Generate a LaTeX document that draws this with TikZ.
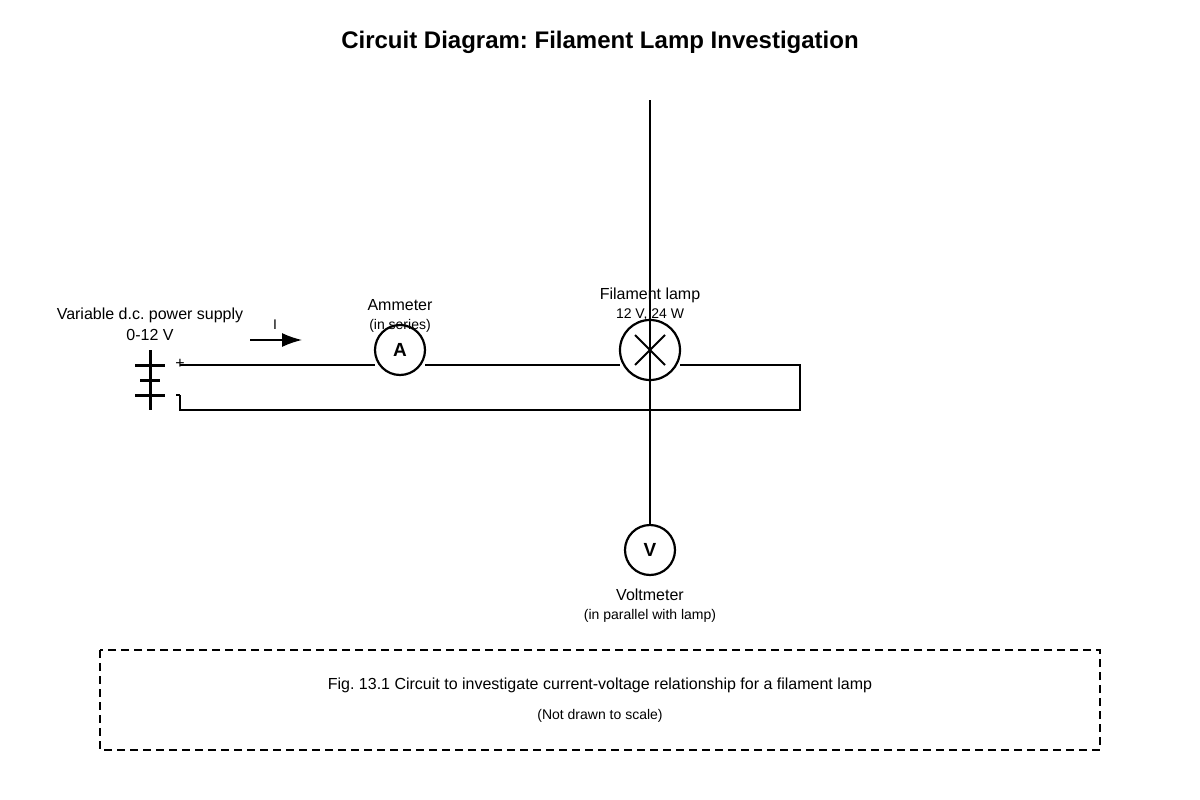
\documentclass[tikz,border=0pt]{standalone}
\usepackage{fontspec}
\setmainfont{Liberation Sans}
\usetikzlibrary{arrows.meta,calc}
\begin{document}
\frenchspacing
\begin{tikzpicture}[x=1pt,y=-1pt,
  wire/.style={line width=1.5pt},
  meter/.style={circle,draw,line width=2.2pt,minimum size=50pt,inner sep=0pt,font=\fontsize{19}{19}\selectfont\bfseries},
  lbl/.style={font=\fontsize{16}{16}\selectfont},
  sml/.style={font=\fontsize{14}{14}\selectfont}]
\useasboundingbox (0,0) rectangle (1200,800);
\node[font=\fontsize{24}{24}\selectfont\bfseries] (title) at (600,42) {Circuit Diagram: Filament Lamp Investigation};
% battery
\draw[line width=3pt] (150,350) -- (150,410);
\draw[line width=3pt] (135,365) -- (165,365);
\draw[line width=3pt] (140,380) -- (160,380);
\draw[line width=3pt] (135,395) -- (165,395);
\node[lbl] (plus) at (180,364) {+};
\coordinate (bp) at (180,365);
\coordinate (bn) at (180,395);
\draw[wire] (176,395) -- (bn);
\node[lbl] (supply) at (150,315) {Variable d.c. power supply};
\node[lbl] (supv) at (150,335) {0-12 V};
% meters and lamp
\node[meter] (A) at (400,350) {A};
\node[meter,minimum size=60pt] (L) at (650,350) {};
\draw[line width=2pt] ($(L.center)+(-15,-15)$) -- ($(L.center)+(15,15)$);
\draw[line width=2pt] ($(L.center)+(-15,15)$) -- ($(L.center)+(15,-15)$);
\node[meter] (V) at (650,550) {V};
\coordinate (top) at (650,100);
\coordinate (rt) at (800,365);
\coordinate (rb) at (800,410);
\coordinate (lb) at (180,410);
\draw[wire] (bp) -- (375,365);
\draw[wire] (425,365) -- (620,365);
\draw[wire] (680,365) -- (rt) -- (rb) -- (lb) -- (bn);
\draw[wire] (top) -- (V.north);
% current arrow
\coordinate (i1) at (250,340);
\coordinate (i2) at (302,340);
\draw[wire,-{Latex[length=20pt,width=14pt]}] (i1) -- (i2);
\node[sml] (I) at (275,325) {I};
% labels
\node[lbl] (al) at (400,305) {Ammeter};
\node[sml] (al2) at (400,326) {(in series)};
\node[lbl] (ll) at (650,295) {Filament lamp};
\node[sml] (ll2) at (650,315) {12 V, 24 W};
\node[lbl] (vl) at (650,595) {Voltmeter};
\node[sml] (vl2) at (650,616) {(in parallel with lamp)};
% caption
\draw[line width=1.5pt,dash pattern=on 8pt off 5pt] (100,650) rectangle (1100,750);
\node[lbl] (cap) at (600,685) {Fig. 13.1 Circuit to investigate current-voltage relationship for a filament lamp};
\node[sml] (cap2) at (600,716) {(Not drawn to scale)};
\end{tikzpicture}
\end{document}
